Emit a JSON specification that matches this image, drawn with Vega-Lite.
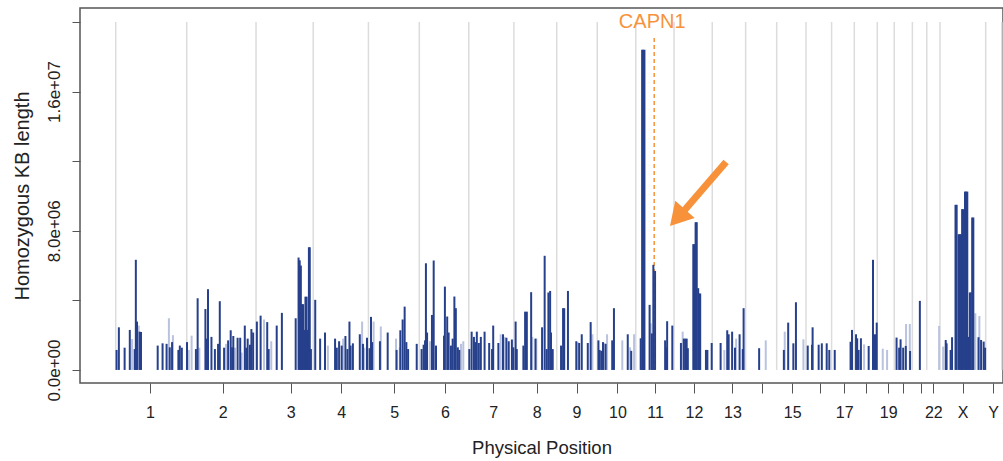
{
  "$schema": "https://vega.github.io/schema/vega-lite/v6.json",
  "width": 923,
  "height": 375,
  "autosize": "none",
  "padding": {"left": 80, "top": 8, "right": 0, "bottom": 78},
  "config": {
    "view": {"stroke": "#555555", "strokeWidth": 1.5},
    "font": "Liberation Sans",
    "axis": {"labelFont": "Liberation Sans", "titleFont": "Liberation Sans", "labelColor": "#222222", "titleColor": "#222222", "titleFontWeight": "normal", "grid": false, "domain": false, "tickColor": "#555555", "tickWidth": 1}
  },
  "datasets": {
    "bounds": [
      {"pos": 0, "len": 20000000}, {"pos": 247, "len": 20000000}, {"pos": 488, "len": 20000000}, {"pos": 687, "len": 20000000},
      {"pos": 879, "len": 20000000}, {"pos": 1056, "len": 20000000}, {"pos": 1228, "len": 20000000}, {"pos": 1385, "len": 20000000},
      {"pos": 1534, "len": 20000000}, {"pos": 1675, "len": 20000000}, {"pos": 1809, "len": 20000000}, {"pos": 1942, "len": 20000000},
      {"pos": 2075, "len": 20000000}, {"pos": 2191, "len": 20000000}, {"pos": 2299, "len": 20000000}, {"pos": 2401, "len": 20000000},
      {"pos": 2490, "len": 20000000}, {"pos": 2569, "len": 20000000}, {"pos": 2649, "len": 20000000}, {"pos": 2708, "len": 20000000},
      {"pos": 2771, "len": 20000000}, {"pos": 2821, "len": 20000000}, {"pos": 2867, "len": 20000000}, {"pos": 3026, "len": 20000000},
      {"pos": 3082, "len": 20000000}
    ],
    "capn1line": [{"pos": 1873, "len": 19080000}],
    "arrow": [{"pos": 2123, "len": 11950000, "pos2": 1973, "len2": 9080000}],
    "arrowhead": [{"pos": 1954, "len": 8750000}],
    "label": [{"pos": 1866, "len": 19650000, "label": "CAPN1"}],
    "roh": [
      {"pos": 3, "len": 1150000, "cls": "solid"}, {"pos": 11, "len": 2450000, "cls": "solid"}, {"pos": 31, "len": 1280000, "cls": "solid"},
      {"pos": 49, "len": 2300000, "cls": "solid"}, {"pos": 57, "len": 1780000, "cls": "faint"}, {"pos": 66, "len": 1200000, "cls": "solid"},
      {"pos": 70, "len": 6330000, "cls": "solid"}, {"pos": 74, "len": 2780000, "cls": "solid"}, {"pos": 80, "len": 2550000, "cls": "faint"},
      {"pos": 83, "len": 2200000, "cls": "solid"}, {"pos": 88, "len": 2180000, "cls": "solid"}, {"pos": 146, "len": 1400000, "cls": "solid"},
      {"pos": 163, "len": 1530000, "cls": "solid"}, {"pos": 177, "len": 1500000, "cls": "solid"}, {"pos": 185, "len": 2970000, "cls": "faint"},
      {"pos": 188, "len": 1300000, "cls": "solid"}, {"pos": 196, "len": 1600000, "cls": "solid"}, {"pos": 199, "len": 2000000, "cls": "faint"},
      {"pos": 218, "len": 1150000, "cls": "solid"}, {"pos": 223, "len": 1400000, "cls": "solid"}, {"pos": 230, "len": 1280000, "cls": "solid"},
      {"pos": 248, "len": 1600000, "cls": "solid"}, {"pos": 254, "len": 1150000, "cls": "faint"}, {"pos": 264, "len": 1970000, "cls": "faint"},
      {"pos": 279, "len": 1200000, "cls": "solid"}, {"pos": 285, "len": 4120000, "cls": "solid"}, {"pos": 291, "len": 1280000, "cls": "faint"},
      {"pos": 312, "len": 3500000, "cls": "solid"}, {"pos": 317, "len": 1800000, "cls": "solid"}, {"pos": 321, "len": 4640000, "cls": "solid"},
      {"pos": 333, "len": 1900000, "cls": "solid"}, {"pos": 345, "len": 1200000, "cls": "solid"}, {"pos": 356, "len": 1500000, "cls": "solid"},
      {"pos": 362, "len": 3950000, "cls": "solid"}, {"pos": 377, "len": 1280000, "cls": "solid"}, {"pos": 384, "len": 1500000, "cls": "faint"},
      {"pos": 391, "len": 1700000, "cls": "solid"}, {"pos": 400, "len": 2280000, "cls": "solid"}, {"pos": 405, "len": 1300000, "cls": "solid"},
      {"pos": 409, "len": 1950000, "cls": "solid"}, {"pos": 415, "len": 1280000, "cls": "faint"}, {"pos": 424, "len": 1850000, "cls": "solid"},
      {"pos": 433, "len": 1850000, "cls": "solid"}, {"pos": 438, "len": 1000000, "cls": "faint"}, {"pos": 449, "len": 2550000, "cls": "solid"},
      {"pos": 454, "len": 1280000, "cls": "solid"}, {"pos": 459, "len": 1800000, "cls": "solid"}, {"pos": 467, "len": 1450000, "cls": "solid"},
      {"pos": 472, "len": 2350000, "cls": "solid"}, {"pos": 478, "len": 2150000, "cls": "solid"},
      {"pos": 491, "len": 2780000, "cls": "solid"}, {"pos": 504, "len": 3120000, "cls": "solid"}, {"pos": 516, "len": 2900000, "cls": "faint"},
      {"pos": 527, "len": 2750000, "cls": "solid"}, {"pos": 532, "len": 1200000, "cls": "solid"}, {"pos": 541, "len": 1650000, "cls": "faint"},
      {"pos": 560, "len": 2550000, "cls": "solid"}, {"pos": 578, "len": 3280000, "cls": "solid"}, {"pos": 626, "len": 2970000, "cls": "solid"},
      {"pos": 636, "len": 6460000, "cls": "solid"}, {"pos": 640, "len": 6300000, "cls": "solid"}, {"pos": 644, "len": 6000000, "cls": "solid"},
      {"pos": 648, "len": 3780000, "cls": "solid"}, {"pos": 652, "len": 3780000, "cls": "solid"}, {"pos": 656, "len": 2300000, "cls": "solid"},
      {"pos": 660, "len": 4210000, "cls": "solid"}, {"pos": 664, "len": 4210000, "cls": "solid"}, {"pos": 668, "len": 2300000, "cls": "solid"},
      {"pos": 672, "len": 7050000, "cls": "solid"}, {"pos": 675, "len": 7050000, "cls": "solid"}, {"pos": 679, "len": 1200000, "cls": "solid"},
      {"pos": 694, "len": 4030000, "cls": "solid"}, {"pos": 711, "len": 1800000, "cls": "solid"}, {"pos": 728, "len": 2150000, "cls": "solid"},
      {"pos": 738, "len": 1400000, "cls": "faint"}, {"pos": 763, "len": 1800000, "cls": "solid"}, {"pos": 769, "len": 1280000, "cls": "solid"},
      {"pos": 777, "len": 1650000, "cls": "solid"}, {"pos": 786, "len": 1400000, "cls": "solid"}, {"pos": 791, "len": 1800000, "cls": "faint"},
      {"pos": 799, "len": 1950000, "cls": "solid"}, {"pos": 806, "len": 1200000, "cls": "solid"}, {"pos": 813, "len": 2780000, "cls": "solid"},
      {"pos": 817, "len": 1400000, "cls": "solid"}, {"pos": 825, "len": 1530000, "cls": "solid"}, {"pos": 849, "len": 2050000, "cls": "solid"},
      {"pos": 857, "len": 2780000, "cls": "faint"}, {"pos": 860, "len": 1500000, "cls": "solid"}, {"pos": 865, "len": 1280000, "cls": "faint"},
      {"pos": 874, "len": 1850000, "cls": "solid"},
      {"pos": 883, "len": 1250000, "cls": "solid"}, {"pos": 888, "len": 3050000, "cls": "solid"}, {"pos": 892, "len": 1600000, "cls": "solid"},
      {"pos": 897, "len": 2780000, "cls": "faint"}, {"pos": 919, "len": 1650000, "cls": "solid"}, {"pos": 922, "len": 2500000, "cls": "faint"},
      {"pos": 946, "len": 2150000, "cls": "solid"}, {"pos": 975, "len": 1800000, "cls": "faint"}, {"pos": 977, "len": 1150000, "cls": "solid"},
      {"pos": 988, "len": 1300000, "cls": "faint"}, {"pos": 990, "len": 2280000, "cls": "solid"}, {"pos": 998, "len": 2900000, "cls": "solid"},
      {"pos": 1005, "len": 3640000, "cls": "solid"}, {"pos": 1011, "len": 1600000, "cls": "solid"}, {"pos": 1017, "len": 1200000, "cls": "solid"},
      {"pos": 1047, "len": 1500000, "cls": "solid"},
      {"pos": 1064, "len": 1200000, "cls": "solid"}, {"pos": 1071, "len": 1450000, "cls": "solid"}, {"pos": 1076, "len": 1700000, "cls": "solid"},
      {"pos": 1079, "len": 6130000, "cls": "solid"}, {"pos": 1083, "len": 2150000, "cls": "solid"}, {"pos": 1093, "len": 1650000, "cls": "faint"},
      {"pos": 1100, "len": 3160000, "cls": "solid"}, {"pos": 1106, "len": 6290000, "cls": "solid"}, {"pos": 1114, "len": 1400000, "cls": "solid"},
      {"pos": 1142, "len": 1970000, "cls": "solid"}, {"pos": 1145, "len": 4790000, "cls": "solid"}, {"pos": 1153, "len": 3070000, "cls": "solid"},
      {"pos": 1158, "len": 2150000, "cls": "solid"}, {"pos": 1166, "len": 1400000, "cls": "solid"}, {"pos": 1172, "len": 1800000, "cls": "solid"},
      {"pos": 1178, "len": 4220000, "cls": "solid"}, {"pos": 1183, "len": 3550000, "cls": "solid"}, {"pos": 1190, "len": 1300000, "cls": "solid"},
      {"pos": 1195, "len": 1150000, "cls": "solid"}, {"pos": 1201, "len": 1500000, "cls": "faint"}, {"pos": 1209, "len": 1650000, "cls": "faint"},
      {"pos": 1230, "len": 1200000, "cls": "solid"}, {"pos": 1238, "len": 2200000, "cls": "solid"}, {"pos": 1246, "len": 1900000, "cls": "solid"},
      {"pos": 1251, "len": 1600000, "cls": "solid"}, {"pos": 1256, "len": 2200000, "cls": "solid"}, {"pos": 1263, "len": 1550000, "cls": "solid"},
      {"pos": 1270, "len": 1900000, "cls": "solid"}, {"pos": 1283, "len": 2200000, "cls": "solid"}, {"pos": 1299, "len": 1550000, "cls": "solid"},
      {"pos": 1309, "len": 1200000, "cls": "solid"}, {"pos": 1313, "len": 2550000, "cls": "solid"}, {"pos": 1331, "len": 1550000, "cls": "solid"},
      {"pos": 1339, "len": 2050000, "cls": "faint"}, {"pos": 1347, "len": 2050000, "cls": "solid"}, {"pos": 1353, "len": 1900000, "cls": "faint"},
      {"pos": 1359, "len": 1850000, "cls": "solid"}, {"pos": 1367, "len": 1650000, "cls": "solid"}, {"pos": 1378, "len": 1750000, "cls": "solid"},
      {"pos": 1383, "len": 1300000, "cls": "solid"},
      {"pos": 1391, "len": 2780000, "cls": "solid"}, {"pos": 1395, "len": 1200000, "cls": "solid"}, {"pos": 1418, "len": 1400000, "cls": "solid"},
      {"pos": 1424, "len": 3350000, "cls": "solid"}, {"pos": 1430, "len": 3350000, "cls": "solid"}, {"pos": 1445, "len": 4470000, "cls": "solid"},
      {"pos": 1449, "len": 1900000, "cls": "faint"}, {"pos": 1460, "len": 1800000, "cls": "solid"}, {"pos": 1463, "len": 1800000, "cls": "faint"},
      {"pos": 1483, "len": 2450000, "cls": "solid"}, {"pos": 1492, "len": 6560000, "cls": "solid"}, {"pos": 1499, "len": 1200000, "cls": "solid"},
      {"pos": 1505, "len": 4450000, "cls": "solid"}, {"pos": 1511, "len": 4540000, "cls": "solid"}, {"pos": 1514, "len": 2150000, "cls": "solid"},
      {"pos": 1520, "len": 1200000, "cls": "solid"},
      {"pos": 1549, "len": 1400000, "cls": "solid"}, {"pos": 1556, "len": 3550000, "cls": "solid"}, {"pos": 1560, "len": 3550000, "cls": "solid"},
      {"pos": 1573, "len": 4540000, "cls": "solid"}, {"pos": 1602, "len": 1650000, "cls": "solid"}, {"pos": 1607, "len": 1600000, "cls": "faint"},
      {"pos": 1612, "len": 1550000, "cls": "solid"}, {"pos": 1621, "len": 2050000, "cls": "solid"}, {"pos": 1642, "len": 1550000, "cls": "solid"},
      {"pos": 1652, "len": 2750000, "cls": "solid"}, {"pos": 1658, "len": 2050000, "cls": "faint"},
      {"pos": 1679, "len": 1700000, "cls": "solid"}, {"pos": 1683, "len": 1150000, "cls": "solid"}, {"pos": 1689, "len": 1100000, "cls": "solid"},
      {"pos": 1695, "len": 1600000, "cls": "solid"}, {"pos": 1700, "len": 1550000, "cls": "faint"}, {"pos": 1704, "len": 1500000, "cls": "solid"},
      {"pos": 1709, "len": 2050000, "cls": "faint"}, {"pos": 1727, "len": 1700000, "cls": "solid"}, {"pos": 1733, "len": 3550000, "cls": "solid"},
      {"pos": 1762, "len": 1700000, "cls": "faint"}, {"pos": 1781, "len": 2050000, "cls": "solid"}, {"pos": 1789, "len": 1300000, "cls": "faint"},
      {"pos": 1793, "len": 1100000, "cls": "solid"}, {"pos": 1803, "len": 2050000, "cls": "faint"},
      {"pos": 1826, "len": 1820000, "cls": "solid"}, {"pos": 1831, "len": 18400000, "cls": "solid"}, {"pos": 1835, "len": 18400000, "cls": "solid"},
      {"pos": 1839, "len": 18400000, "cls": "solid"}, {"pos": 1857, "len": 3740000, "cls": "solid"}, {"pos": 1861, "len": 2680000, "cls": "faint"},
      {"pos": 1865, "len": 2100000, "cls": "solid"}, {"pos": 1870, "len": 6040000, "cls": "solid"}, {"pos": 1876, "len": 5690000, "cls": "solid"},
      {"pos": 1911, "len": 1700000, "cls": "solid"}, {"pos": 1914, "len": 1300000, "cls": "solid"}, {"pos": 1918, "len": 2800000, "cls": "solid"},
      {"pos": 1936, "len": 2550000, "cls": "solid"},
      {"pos": 1966, "len": 1550000, "cls": "solid"}, {"pos": 1972, "len": 2200000, "cls": "faint"}, {"pos": 1976, "len": 1800000, "cls": "solid"},
      {"pos": 1981, "len": 1800000, "cls": "solid"}, {"pos": 1986, "len": 1800000, "cls": "solid"}, {"pos": 1990, "len": 1250000, "cls": "solid"},
      {"pos": 2009, "len": 7230000, "cls": "solid"}, {"pos": 2013, "len": 7230000, "cls": "solid"}, {"pos": 2017, "len": 8490000, "cls": "solid"},
      {"pos": 2021, "len": 8490000, "cls": "solid"}, {"pos": 2026, "len": 4700000, "cls": "solid"}, {"pos": 2030, "len": 4390000, "cls": "solid"},
      {"pos": 2033, "len": 4390000, "cls": "solid"}, {"pos": 2053, "len": 1150000, "cls": "solid"}, {"pos": 2058, "len": 1150000, "cls": "solid"},
      {"pos": 2073, "len": 1550000, "cls": "solid"},
      {"pos": 2104, "len": 1550000, "cls": "solid"}, {"pos": 2117, "len": 1150000, "cls": "faint"}, {"pos": 2127, "len": 2280000, "cls": "solid"},
      {"pos": 2132, "len": 2050000, "cls": "solid"}, {"pos": 2144, "len": 2200000, "cls": "solid"}, {"pos": 2154, "len": 1280000, "cls": "solid"},
      {"pos": 2158, "len": 1800000, "cls": "faint"}, {"pos": 2170, "len": 2050000, "cls": "solid"}, {"pos": 2181, "len": 1200000, "cls": "solid"},
      {"pos": 2184, "len": 3550000, "cls": "solid"},
      {"pos": 2238, "len": 1250000, "cls": "solid"}, {"pos": 2261, "len": 1700000, "cls": "faint"},
      {"pos": 2324, "len": 1150000, "cls": "solid"}, {"pos": 2327, "len": 2200000, "cls": "faint"}, {"pos": 2339, "len": 2720000, "cls": "solid"},
      {"pos": 2357, "len": 1530000, "cls": "solid"}, {"pos": 2366, "len": 3890000, "cls": "solid"}, {"pos": 2392, "len": 1760000, "cls": "faint"},
      {"pos": 2407, "len": 1400000, "cls": "solid"}, {"pos": 2422, "len": 1450000, "cls": "solid"}, {"pos": 2424, "len": 2450000, "cls": "solid"},
      {"pos": 2445, "len": 1450000, "cls": "solid"}, {"pos": 2456, "len": 1530000, "cls": "solid"}, {"pos": 2473, "len": 1530000, "cls": "solid"},
      {"pos": 2482, "len": 1150000, "cls": "solid"},
      {"pos": 2501, "len": 1150000, "cls": "solid"}, {"pos": 2556, "len": 1620000, "cls": "solid"}, {"pos": 2561, "len": 2300000, "cls": "solid"},
      {"pos": 2575, "len": 2050000, "cls": "solid"}, {"pos": 2579, "len": 1820000, "cls": "solid"}, {"pos": 2584, "len": 1150000, "cls": "solid"},
      {"pos": 2592, "len": 1820000, "cls": "solid"}, {"pos": 2603, "len": 1470000, "cls": "faint"}, {"pos": 2619, "len": 1380000, "cls": "solid"},
      {"pos": 2634, "len": 6330000, "cls": "solid"}, {"pos": 2641, "len": 2050000, "cls": "solid"}, {"pos": 2647, "len": 2720000, "cls": "solid"},
      {"pos": 2668, "len": 1220000, "cls": "faint"}, {"pos": 2683, "len": 1150000, "cls": "faint"},
      {"pos": 2716, "len": 1860000, "cls": "solid"}, {"pos": 2725, "len": 1280000, "cls": "solid"}, {"pos": 2730, "len": 1760000, "cls": "solid"},
      {"pos": 2739, "len": 1280000, "cls": "solid"}, {"pos": 2748, "len": 1380000, "cls": "solid"}, {"pos": 2749, "len": 2640000, "cls": "faint"},
      {"pos": 2762, "len": 2640000, "cls": "faint"}, {"pos": 2763, "len": 1090000, "cls": "solid"},
      {"pos": 2797, "len": 3970000, "cls": "solid"},
      {"pos": 2864, "len": 2530000, "cls": "faint"},
      {"pos": 2878, "len": 1340000, "cls": "faint"}, {"pos": 2887, "len": 1720000, "cls": "solid"}, {"pos": 2890, "len": 1530000, "cls": "solid"},
      {"pos": 2904, "len": 1150000, "cls": "solid"}, {"pos": 2909, "len": 1880000, "cls": "solid"}, {"pos": 2921, "len": 9490000, "cls": "solid"},
      {"pos": 2925, "len": 9490000, "cls": "solid"}, {"pos": 2932, "len": 7800000, "cls": "solid"}, {"pos": 2936, "len": 7800000, "cls": "solid"},
      {"pos": 2940, "len": 7800000, "cls": "solid"}, {"pos": 2944, "len": 9240000, "cls": "solid"}, {"pos": 2948, "len": 9240000, "cls": "solid"},
      {"pos": 2954, "len": 10250000, "cls": "solid"}, {"pos": 2958, "len": 10250000, "cls": "solid"}, {"pos": 2962, "len": 10250000, "cls": "solid"},
      {"pos": 2966, "len": 1900000, "cls": "solid"}, {"pos": 2971, "len": 4450000, "cls": "solid"}, {"pos": 2974, "len": 4450000, "cls": "solid"},
      {"pos": 2979, "len": 8760000, "cls": "solid"}, {"pos": 2983, "len": 8760000, "cls": "solid"}, {"pos": 2990, "len": 3260000, "cls": "faint"},
      {"pos": 3001, "len": 1880000, "cls": "solid"}, {"pos": 3004, "len": 3100000, "cls": "faint"}, {"pos": 3010, "len": 1720000, "cls": "solid"},
      {"pos": 3019, "len": 1630000, "cls": "solid"}, {"pos": 3024, "len": 1280000, "cls": "solid"}
    ]
  },
  "encoding": {
    "x": {
      "field": "pos", "type": "quantitative",
      "scale": {"domain": [-124.2, 3086.2], "nice": false, "zero": false},
      "axis": {
        "title": "Physical Position", "titleFontSize": 18.5, "titlePadding": 18,
        "labelFontSize": 16, "tickSize": 10, "labelPadding": 11, "labelOverlap": false, "labelFlush": false,
        "values": [119, 372, 609, 784, 969, 1145, 1313, 1464, 1603, 1745, 1876, 2011, 2145, 2247, 2353, 2450, 2534, 2610, 2687, 2737, 2801, 2844, 2946, 3052],
        "labelExpr": "['1','2','3','4','5','6','7','8','9','10','11','12','13','','15','','17','','19','','','22','X','Y'][indexof([119,372,609,784,969,1145,1313,1464,1603,1745,1876,2011,2145,2247,2353,2450,2534,2610,2687,2737,2801,2844,2946,3052], datum.value)]"
      }
    },
    "y": {
      "field": "len", "type": "quantitative",
      "scale": {"domain": [-750000, 20800000], "nice": false, "zero": false},
      "axis": {
        "title": "Homozygous KB length", "titleFontSize": 20, "titlePadding": 13,
        "labelFontSize": 17, "labelAngle": -90, "labelAlign": "center", "labelBaseline": "bottom",
        "tickSize": 8, "labelPadding": 9, "labelOverlap": false, "labelFlush": false,
        "values": [0, 4000000, 8000000, 12000000, 16000000, 20000000],
        "labelExpr": "datum.value == 0 ? '0.0e+00' : datum.value == 8000000 ? '8.0e+06' : datum.value == 16000000 ? '1.6e+07' : ''"
      }
    }
  },
  "layer": [
    {
      "data": {"name": "bounds"},
      "mark": {"type": "rule", "color": "#dcdcdc", "strokeWidth": 1.5},
      "encoding": {"y2": {"datum": 0}}
    },
    {
      "data": {"name": "capn1line"},
      "mark": {"type": "rule", "color": "#F7923A", "strokeWidth": 1.5, "strokeDash": [4, 3]},
      "encoding": {"y2": {"datum": 0}}
    },
    {
      "data": {"name": "roh"},
      "mark": {"type": "rule", "strokeWidth": 2},
      "encoding": {
        "y2": {"datum": 0},
        "color": {"field": "cls", "type": "nominal", "scale": {"domain": ["solid", "faint"], "range": ["#26408C", "#B9C3DF"]}, "legend": null},
        "order": {"field": "cls", "type": "nominal", "sort": "ascending"}
      }
    },
    {
      "data": {"name": "arrow"},
      "mark": {"type": "rule", "color": "#F7923A", "strokeWidth": 7, "strokeCap": "butt"},
      "encoding": {"x2": {"field": "pos2"}, "y2": {"field": "len2"}}
    },
    {
      "data": {"name": "arrowhead"},
      "mark": {"type": "point", "shape": "triangle-up", "filled": true, "size": 676, "angle": 221.7, "color": "#F7923A", "opacity": 1}
    },
    {
      "data": {"name": "label"},
      "mark": {"type": "text", "color": "#F7923A", "fontSize": 20, "font": "Liberation Sans", "align": "center", "baseline": "alphabetic"},
      "encoding": {"text": {"field": "label"}}
    }
  ]
}
